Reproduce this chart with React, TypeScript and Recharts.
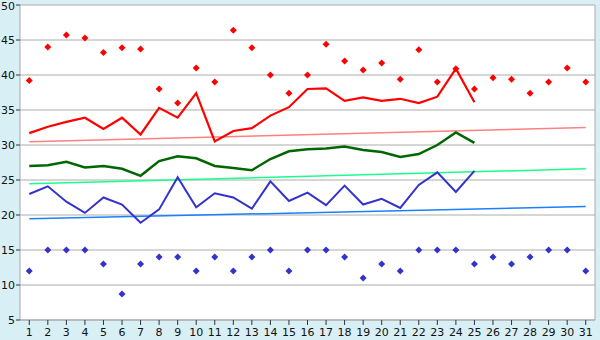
import { CartesianGrid, ComposedChart, Line, XAxis, YAxis } from "recharts";

const days = Array.from({ length: 31 }, (_, i) => String(i + 1));

// daily extremes (diamonds)
const maxPts = [
  39.2, 44.0, 45.7, 45.3, 43.2, 43.9, 43.7, 38.0, 36.0, 41.0, 39.0, 46.4, 43.9, 40.0, 37.4,
  40.0, 44.4, 42.0, 40.7, 41.7, 39.4, 43.6, 39.0, 40.9, 38.0, 39.6, 39.4, 37.4, 39.0, 41.0, 39.0,
];
const minPts = [
  12, 15, 15, 15, 13, 8.7, 13, 14, 14, 12, 14, 12, 14, 15, 12,
  15, 15, 14, 11, 13, 12, 15, 15, 15, 13, 14, 13, 14, 15, 15, 12,
];

// averages, only first 25 days
const highLine = [
  31.7, 32.6, 33.3, 33.9, 32.3, 33.9, 31.5, 35.3, 33.9, 37.4, 30.5, 32.0, 32.4, 34.2, 35.4,
  38.0, 38.1, 36.3, 36.8, 36.3, 36.6, 36.0, 36.9, 40.9, 36.1,
];
const midLine = [
  27.0, 27.1, 27.6, 26.8, 27.0, 26.6, 25.6, 27.7, 28.4, 28.1, 27.0, 26.7, 26.4, 28.0, 29.1,
  29.4, 29.5, 29.8, 29.3, 29.0, 28.3, 28.7, 30.0, 31.8, 30.3,
];
const lowLine = [
  23.0, 24.1, 21.9, 20.3, 22.5, 21.5, 18.9, 20.8, 25.4, 21.1, 23.1, 22.5, 20.9, 24.8, 22.0,
  23.2, 21.4, 24.2, 21.5, 22.3, 21.0, 24.3, 26.1, 23.3, 26.3,
];

// trend lines: first and last day
const highTrend = [30.45, 32.5];
const midTrend = [24.45, 26.6];
const lowTrend = [19.45, 21.2];

const yTicks = [5, 10, 15, 20, 25, 30, 35, 40, 45, 50];

const data = days.map((d, i) => {
  const last = i === days.length - 1;
  return {
    day: d,
    max: maxPts[i],
    min: minPts[i],
    high: highLine[i] ?? null,
    mid: midLine[i] ?? null,
    low: lowLine[i] ?? null,
    hT: i === 0 ? highTrend[0] : last ? highTrend[1] : null,
    mT: i === 0 ? midTrend[0] : last ? midTrend[1] : null,
    lT: i === 0 ? lowTrend[0] : last ? lowTrend[1] : null,
  };
});

function diamond(color: string) {
  return (p: any) => {
    const { cx, cy, index } = p;
    if (cx == null || cy == null) return <g key={index} />;
    const r = 3.5;
    return (
      <path
        key={index}
        d={`M${cx},${cy - r}L${cx + r},${cy}L${cx},${cy + r}L${cx - r},${cy}Z`}
        fill={color}
      />
    );
  };
}

const tickStyle = { fontSize: 11, fill: "#111", fontFamily: "DejaVu Sans" };

export default function App() {
  return (
    <div
      style={{
        position: "absolute",
        left: 0,
        top: 0,
        width: 600,
        height: 340,
        background: "#d9eff6",
      }}
    >
      <ComposedChart
        width={600}
        height={340}
        data={data}
        margin={{ top: 5, right: 5, left: 0, bottom: 0 }}
      >
        <CartesianGrid
          fill="#ffffff"
          stroke="#acacac"
          verticalPoints={[595]}
        />
        <XAxis
          dataKey="day"
          scale="band"
          interval={0}
          height={20}
          tick={tickStyle}
          tickSize={5}
          tickMargin={3}
          axisLine={{ stroke: "#a8a8a8" }}
          tickLine={{ stroke: "#333" }}
        />
        <YAxis
          domain={[5, 50]}
          ticks={yTicks}
          width={20}
          tick={tickStyle}
          tickSize={4}
          tickMargin={1}
          axisLine={{ stroke: "#a8a8a8" }}
          tickLine={{ stroke: "#333" }}
        />
        <Line dataKey="hT" stroke="#ff8080" strokeWidth={1.5} dot={false} connectNulls isAnimationActive={false} />
        <Line dataKey="mT" stroke="#1aff8c" strokeWidth={1.5} dot={false} connectNulls isAnimationActive={false} />
        <Line dataKey="lT" stroke="#1a80ff" strokeWidth={1.5} dot={false} connectNulls isAnimationActive={false} />
        <Line dataKey="high" type="linear" stroke="#ff0000" strokeWidth={2.2} dot={false} isAnimationActive={false} />
        <Line dataKey="mid" type="linear" stroke="#006600" strokeWidth={2.5} dot={false} isAnimationActive={false} />
        <Line dataKey="low" type="linear" stroke="#3333cc" strokeWidth={2} dot={false} isAnimationActive={false} />
        <Line dataKey="max" stroke="none" dot={diamond("#ff0000")} activeDot={false} isAnimationActive={false} />
        <Line dataKey="min" stroke="none" dot={diamond("#3333cc")} activeDot={false} isAnimationActive={false} />
      </ComposedChart>
    </div>
  );
}
